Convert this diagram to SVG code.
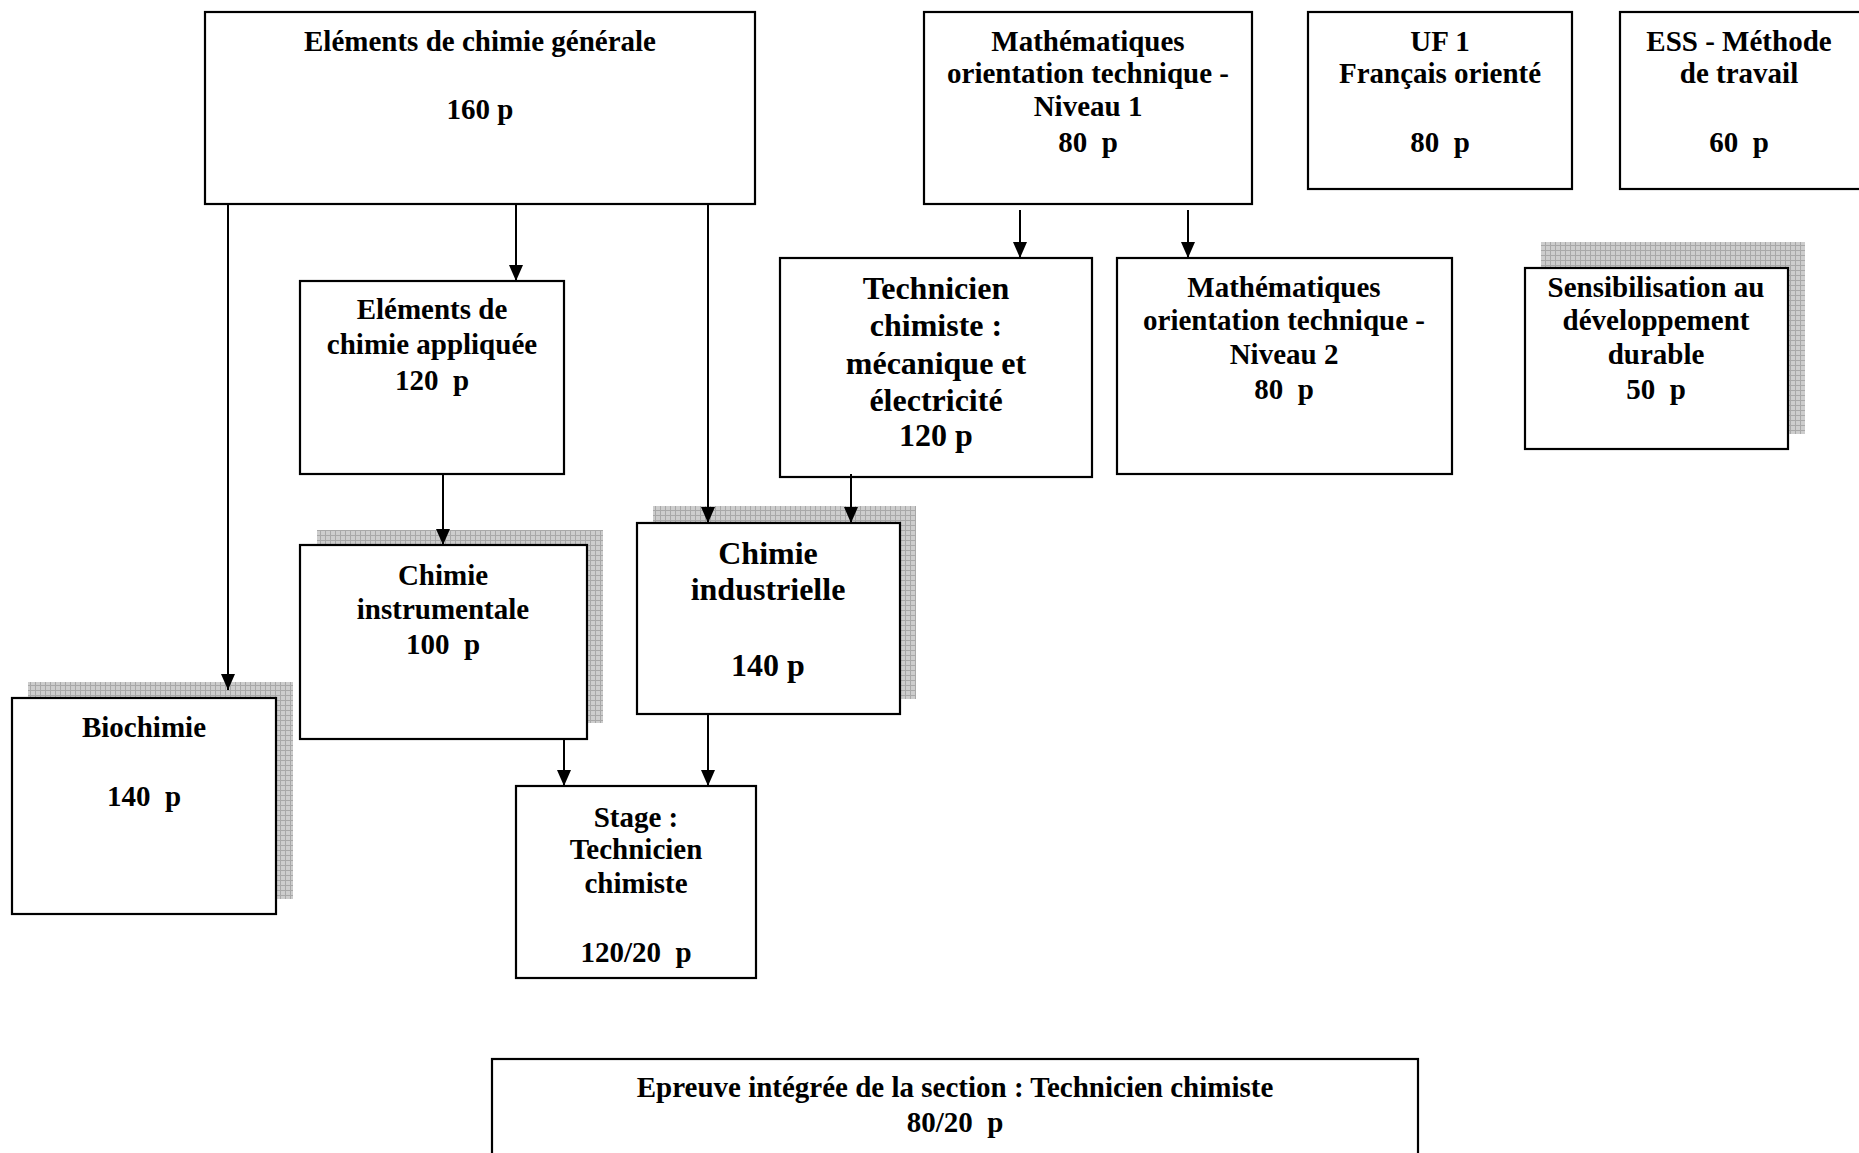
<svg xmlns="http://www.w3.org/2000/svg" width="1859" height="1153" viewBox="0 0 1859 1153">
<style>
text{font-family:"Liberation Serif","Times New Roman",serif;font-weight:bold;font-size:29px;fill:#000;text-anchor:middle;white-space:pre}
.big{font-size:32px}
.box{fill:#fff;stroke:#000;stroke-width:2.2}
.shadow{fill:url(#grid)}
.conn{stroke:#000;stroke-width:2;fill:none;marker-end:url(#arr)}
</style>
<defs>
<pattern id="grid" width="5" height="5" patternUnits="userSpaceOnUse">
<rect width="5" height="5" fill="#cdcdcd"/>
<path d="M0 0.5H5M0.5 0V5" stroke="#a8a8a8" stroke-width="1"/>
</pattern>
<marker id="arr" markerUnits="userSpaceOnUse" markerWidth="16" markerHeight="14" refX="16" refY="7" orient="auto">
<path d="M0 0L16 7L0 14z" fill="#000"/>
</marker>
</defs>
<rect width="1859" height="1153" fill="#fff"/>
<g id="n-chimie-generale">
<rect class="box" x="205" y="12" width="550" height="192"/>
<text x="480" y="51">Eléments de chimie générale</text>
<text x="480" y="119">160 p</text>
</g>
<g id="n-math1">
<rect class="box" x="924" y="12" width="328" height="192"/>
<text x="1088" y="51">Mathématiques</text>
<text x="1088" y="83">orientation technique -</text>
<text x="1088" y="116">Niveau 1</text>
<text x="1088" y="152">80  p</text>
</g>
<g id="n-uf1">
<rect class="box" x="1308" y="12" width="264" height="177"/>
<text x="1440" y="51">UF 1</text>
<text x="1440" y="83">Français orienté</text>
<text x="1440" y="152">80  p</text>
</g>
<g id="n-ess">
<rect class="box" x="1620" y="12" width="260" height="177"/>
<text x="1739" y="51">ESS - Méthode</text>
<text x="1739" y="83">de travail</text>
<text x="1739" y="152">60  p</text>
</g>
<g id="n-chimie-appliquee">
<rect class="box" x="300" y="281" width="264" height="193"/>
<text x="432" y="319">Eléments de</text>
<text x="432" y="354">chimie appliquée</text>
<text x="432" y="390">120  p</text>
</g>
<g id="n-technicien">
<rect class="box" x="780" y="258" width="312" height="219"/>
<text class="big" x="936" y="299">Technicien</text>
<text class="big" x="936" y="336">chimiste :</text>
<text class="big" x="936" y="374">mécanique et</text>
<text class="big" x="936" y="411">électricité</text>
<text class="big" x="936" y="446">120 p</text>
</g>
<g id="n-math2">
<rect class="box" x="1117" y="258" width="335" height="216"/>
<text x="1284" y="297">Mathématiques</text>
<text x="1284" y="330">orientation technique -</text>
<text x="1284" y="364">Niveau 2</text>
<text x="1284" y="399">80  p</text>
</g>
<g id="n-sensibilisation">
<rect class="shadow" x="1541" y="242" width="264" height="192"/>
<rect class="box" x="1525" y="268" width="263" height="181"/>
<text x="1656" y="297">Sensibilisation au</text>
<text x="1656" y="330">développement</text>
<text x="1656" y="364">durable</text>
<text x="1656" y="399">50  p</text>
</g>
<g id="n-instrumentale">
<rect class="shadow" x="317" y="530" width="286" height="193"/>
<rect class="box" x="300" y="545" width="287" height="194"/>
<text x="443" y="585">Chimie</text>
<text x="443" y="619">instrumentale</text>
<text x="443" y="654">100  p</text>
</g>
<g id="n-industrielle">
<rect class="shadow" x="653" y="506" width="263" height="193"/>
<rect class="box" x="637" y="523" width="263" height="191"/>
<text class="big" x="768" y="564">Chimie</text>
<text class="big" x="768" y="600">industrielle</text>
<text class="big" x="768" y="676">140 p</text>
</g>
<g id="n-biochimie">
<rect class="shadow" x="28" y="682" width="265" height="217"/>
<rect class="box" x="12" y="698" width="264" height="216"/>
<text x="144" y="737">Biochimie</text>
<text x="144" y="806">140  p</text>
</g>
<g id="n-stage">
<rect class="box" x="516" y="786" width="240" height="192"/>
<text x="636" y="827">Stage :</text>
<text x="636" y="859">Technicien</text>
<text x="636" y="893">chimiste</text>
<text x="636" y="962">120/20  p</text>
</g>
<g id="n-epreuve">
<rect class="box" x="492" y="1059" width="926" height="120"/>
<text x="955" y="1097">Epreuve intégrée de la section : Technicien chimiste</text>
<text x="955" y="1132">80/20  p</text>
</g>
<g id="connectors">
<path class="conn" d="M228 204V690"/>
<path class="conn" d="M516 204V281"/>
<path class="conn" d="M708 204V523"/>
<path class="conn" d="M443 474V545"/>
<path class="conn" d="M1020 210V258"/>
<path class="conn" d="M1188 210V258"/>
<path class="conn" d="M851 474V523"/>
<path class="conn" d="M564 739V786"/>
<path class="conn" d="M708 714V786"/>
</g>
</svg>
